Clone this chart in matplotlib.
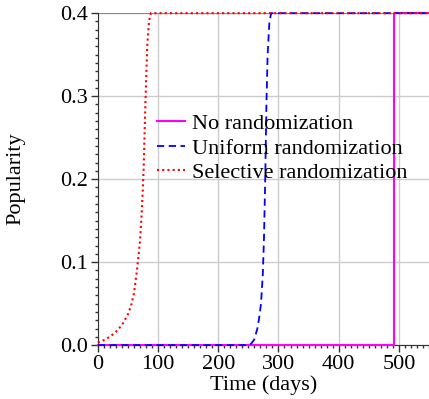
import numpy as np
import matplotlib
matplotlib.use("Agg")
import matplotlib.pyplot as plt
from matplotlib.ticker import MultipleLocator

plt.rcParams['font.family'] = ['Liberation Serif', 'DejaVu Serif']

# popularity curves (days, popularity)
t_none = [0, 492, 492, 550]
p_none = [0.0, 0.0, 0.4, 0.4]

t_uniform = [0, 250, 255, 260, 265, 268, 271, 274, 276, 278, 280, 282, 285, 288, 550]
p_uniform = [0.0, 0.0, 0.002, 0.007, 0.02, 0.033, 0.05, 0.085, 0.13, 0.2, 0.29, 0.35, 0.39, 0.4, 0.4]

t_selective = [0, 10, 20, 30, 40, 50, 55, 60, 65, 70, 73, 76, 79, 82, 85, 88, 90, 550]
p_selective = [0.003, 0.006, 0.01, 0.016, 0.024, 0.037, 0.047, 0.062, 0.09, 0.125, 0.16, 0.21, 0.29, 0.36, 0.39, 0.4, 0.4, 0.4]

labels = ["No randomization", "Uniform randomization", "Selective randomization"]

fs = 16

fig = plt.figure(figsize=(4.29, 3.99), dpi=100)
ax = fig.add_axes([0.228, 0.135, 0.772, 0.832])

ax.plot(t_none, p_none, color='#ff00ff', lw=1.5, ls='-', label=labels[0], clip_on=False, zorder=3)
ax.plot(t_uniform, p_uniform, color='#0000ff', lw=1.3, ls=(0, (4, 2.5)), label=labels[1], clip_on=False, zorder=3)
ax.plot(t_selective, p_selective, color='#ff0000', lw=1.5, ls=(0, (1, 1.5)), label=labels[2], clip_on=False, zorder=3)

ax.set_xlim(0, 550)
ax.set_ylim(0, 0.4)
ax.xaxis.set_major_locator(MultipleLocator(100))
ax.xaxis.set_minor_locator(MultipleLocator(10))
ax.yaxis.set_major_locator(MultipleLocator(0.1))
ax.yaxis.set_minor_locator(MultipleLocator(0.01))
ax.yaxis.set_major_formatter(matplotlib.ticker.FormatStrFormatter('%.1f'))

ax.grid(True, which='major', color='#cccccc', lw=1.0)
ax.set_axisbelow(True)
for s in ['right', 'top']:
    ax.spines[s].set_visible(False)
for s in ['left', 'bottom']:
    ax.spines[s].set_color('#333333')
ax.axhline(0.4, color='#888888', lw=1.5, zorder=1)

ax.tick_params(which='major', length=5, width=1, color='#333333', labelsize=fs, pad=2)
ax.tick_params(which='minor', length=2.5, width=1, color='#333333')

ax.set_xlabel("Time (days)", fontsize=fs, labelpad=1)
ax.set_ylabel("Popularity", fontsize=fs, labelpad=25)

ax.legend(loc='upper left', bbox_to_anchor=(0.18, 0.698), frameon=False,
          fontsize=fs, handlelength=1.25, handletextpad=0.3, labelspacing=0.18,
          borderpad=0, borderaxespad=0)

fig.savefig("out.png", dpi=100)
